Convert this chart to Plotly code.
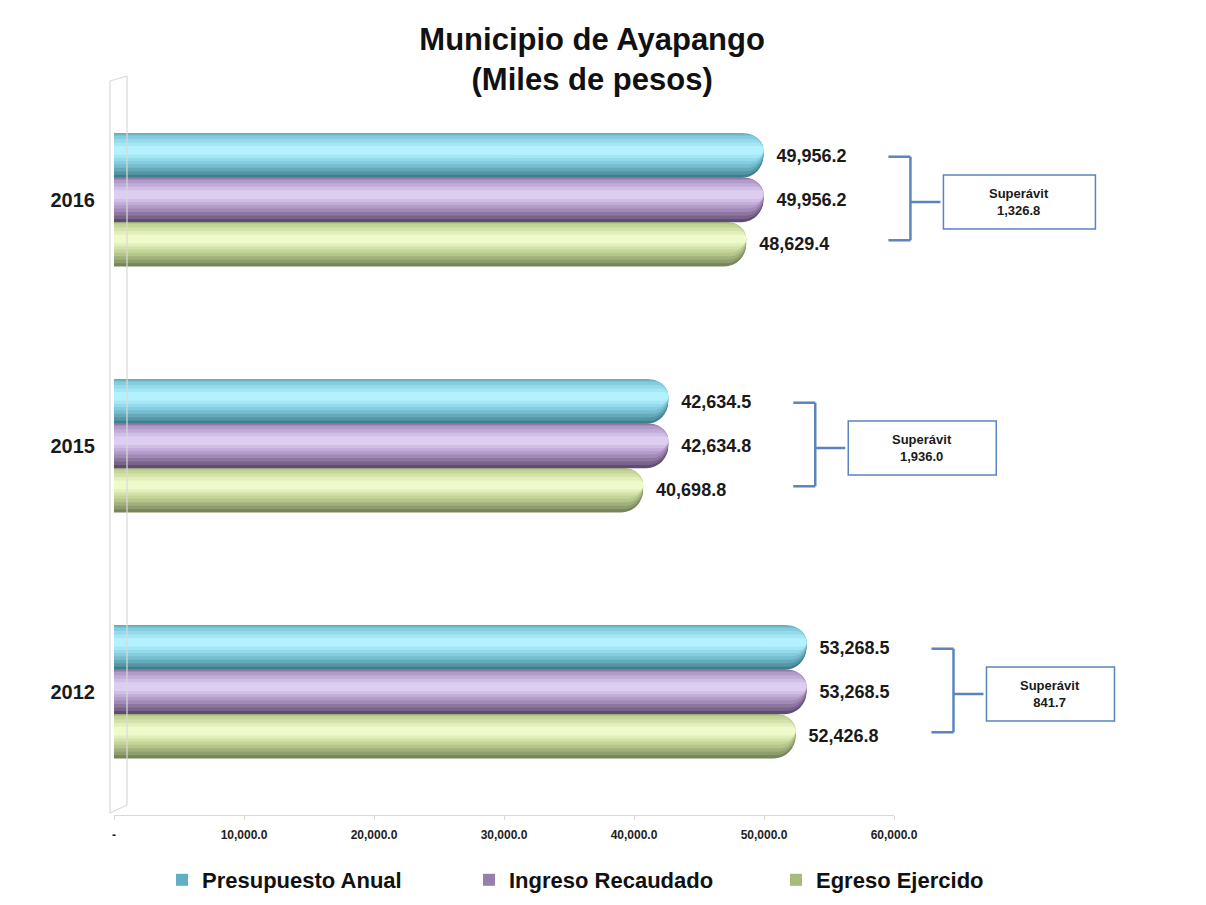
import plotly.graph_objects as go

# ---------------- data ----------------
years = ["2012", "2015", "2016"]
presupuesto = [53268.5, 42634.5, 49956.2]
ingreso = [53268.5, 42634.8, 49956.2]
egreso = [52426.8, 40698.8, 48629.4]
superavit = [841.7, 1936.0, 1326.8]
series_names = ["Presupuesto Anual", "Ingreso Recaudado", "Egreso Ejercido"]
x_tickvals = [0, 10000, 20000, 30000, 40000, 50000, 60000]
x_ticktext = ["-", "10,000.0", "20,000.0", "30,000.0", "40,000.0", "50,000.0", "60,000.0"]

# ---------------- style ----------------
W, H = 1206, 905
L, R, T, B = 114, 10, 77, 90
GS_W = W - L - R          # width of the area inside the margins
PLOT_W = 780              # width of the x axis
plot_h = H - T - B
XMAX = 60000
BAR_W = 0.18
FONT = "Arial, Liberation Sans, sans-serif"

# (bottom/dark, top, highlight)
colors = {
    "Presupuesto Anual": ("#3f7f8d", "#84cde0", "#b2f1fd"),
    "Ingreso Recaudado": ("#5f4c70", "#b29ac9", "#ddcdf1"),
    "Egreso Ejercido": ("#77855a", "#c4d598", "#eefac9"),
}
legend_colors = {"Presupuesto Anual": "#5fb0c6", "Ingreso Recaudado": "#9580ad", "Egreso Ejercido": "#a8ba7c"}
top_offsets = {"Presupuesto Anual": 0.27, "Ingreso Recaudado": 0.09, "Egreso Ejercido": -0.09}
values = {"Presupuesto Anual": presupuesto, "Ingreso Recaudado": ingreso, "Egreso Ejercido": egreso}


def hex2rgb(h):
    h = h.lstrip("#")
    return [int(h[i:i + 2], 16) for i in (0, 2, 4)]


def mix(a, b, t):
    ra, rb = hex2rgb(a), hex2rgb(b)
    return "rgb(%d,%d,%d)" % tuple(round(ra[k] + (rb[k] - ra[k]) * t) for k in range(3))


# nested layers: (start fraction from top, end fraction from top, colour blend)
layers = [
    (0.00, 1.00, "dark"),
    (0.00, 0.93, 0.30),
    (0.00, 0.85, 0.55),
    (0.02, 0.77, 0.80),
    (0.05, 0.69, 1.00),
    (0.12, 0.62, "hl1"),
    (0.20, 0.55, "hl2"),
    (0.28, 0.48, "hl3"),
]

fig = go.Figure()

for name in series_names:
    dark, topc, hl = colors[name]
    top = top_offsets[name]
    vals = values[name]
    for j, (f0, f1, c) in enumerate(layers):
        if c == "dark":
            col = dark
        elif c == "hl1":
            col = mix(topc, hl, 0.35)
        elif c == "hl2":
            col = mix(topc, hl, 0.7)
        elif c == "hl3":
            col = hl
        else:
            col = mix(dark, topc, c)
        kw = {}
        if j == 0:
            kw = dict(text=vals, texttemplate="  %{x:,.1f}", textposition="outside",
                      textfont=dict(family=FONT, size=18, color="#1a1a1a", weight="bold"),
                      cliponaxis=False)
        fig.add_trace(go.Bar(
            y=years, x=vals, orientation="h", showlegend=False,
            width=BAR_W * (f1 - f0), offset=top - BAR_W * f1,
            marker=dict(color=col, cornerradius="50%", line=dict(width=0)),
            hoverinfo="skip" if j else None, legendgroup=name, name=name,
            **kw,
        ))
    # legend-only entry
    fig.add_trace(go.Bar(y=[None], x=[None], orientation="h", name=name,
                         marker=dict(color=legend_colors[name], line=dict(width=0)),
                         legendgroup=name, showlegend=True))

# ---------------- brackets & surplus boxes ----------------
dx = 1.0 / GS_W
dy = 1.0 / plot_h


def px_x(v):
    return v / XMAX * PLOT_W * dx


def py(idx, off):
    return (idx + 0.5 + off) / 3.0


line_col = "#5b84bd"
box_widths = [128, 148, 152]
shapes = []
annotations = []
for i, yr in enumerate(years):
    vmax = max(presupuesto[i], ingreso[i], egreso[i])
    x0 = px_x(vmax) + 125 * dx
    x1 = x0 + 22 * dx
    ytop = py(i, 0.18) - 1 * dy
    ybot = py(i, -0.18) + 4 * dy
    ymid = py(i, 0.0) - 2 * dy
    for (xa, ya, xb, yb) in [(x0, ytop, x1, ytop), (x1, ytop, x1, ybot), (x0, ybot, x1, ybot),
                             (x1, ymid, x1 + 30 * dx, ymid)]:
        shapes.append(dict(type="line", xref="paper", yref="paper", x0=xa, y0=ya, x1=xb, y1=yb,
                           line=dict(color=line_col, width=2.5)))
    bx0 = x1 + 33 * dx
    bx1 = bx0 + box_widths[i] * dx
    shapes.append(dict(type="rect", xref="paper", yref="paper", x0=bx0, x1=bx1,
                       y0=ymid - 27 * dy, y1=ymid + 27 * dy,
                       line=dict(color=line_col, width=1.5), fillcolor="white"))
    annotations.append(dict(xref="paper", yref="paper", x=(bx0 + bx1) / 2, y=ymid,
                            xanchor="center", yanchor="middle",
                            text="<b>Superávit<br>%s</b>" % f"{superavit[i]:,.1f}",
                            showarrow=False, font=dict(family=FONT, size=13, color="#1a1a1a"),
                            align="center"))

# back wall lines (3D look)
wall = "#d9d9d9"
for (xa, ya, xb, yb) in [(-4, 2, -4, plot_h - 4), (13, 10, 13, plot_h + 1),
                         (-4, plot_h - 4, 13, plot_h + 1), (-4, 2, 13, 10)]:
    shapes.append(dict(type="line", xref="paper", yref="paper", x0=xa * dx, x1=xb * dx,
                       y0=ya * dy, y1=yb * dy, line=dict(color=wall, width=1.2)))

fig.update_layout(
    width=W, height=H,
    margin=dict(l=L, r=R, t=T, b=B, autoexpand=False),
    paper_bgcolor="white", plot_bgcolor="white",
    barmode="overlay",
    title=dict(text="<b>Municipio de Ayapango<br>(Miles de pesos)</b>",
               x=0.491, xref="container", xanchor="center",
               y=1 - 50 / H, yref="container", yanchor="middle",
               font=dict(family=FONT, size=31, color="#111111")),
    xaxis=dict(range=[0, XMAX], domain=[0, PLOT_W / GS_W],
               tickvals=x_tickvals, ticktext=x_ticktext,
               showgrid=False, zeroline=False, showline=True, linecolor=wall, linewidth=1.2,
               ticks="outside", ticklen=4, tickcolor=wall,
               tickfont=dict(family=FONT, size=12, color="#222222", weight="bold"),
               ticklabelstandoff=4, fixedrange=True),
    yaxis=dict(range=[-0.5, 2.5], showgrid=False, zeroline=False, showline=False,
               ticks="", tickfont=dict(family=FONT, size=20, color="#1a1a1a", weight="bold"),
               ticklabelstandoff=18, fixedrange=True),
    legend=dict(orientation="h", xref="container", yref="container",
                x=162 / W, y=1 - 880 / H, xanchor="left", yanchor="middle",
                entrywidth=262, entrywidthmode="pixels",
                font=dict(family=FONT, size=22, color="#111111", weight="bold"),
                itemwidth=30, tracegroupgap=0),
    shapes=shapes, annotations=annotations,
    showlegend=True,
)

fig.write_html("out.html", config={"displayModeBar": False},
               post_script="document.body.style.margin='0px';")
